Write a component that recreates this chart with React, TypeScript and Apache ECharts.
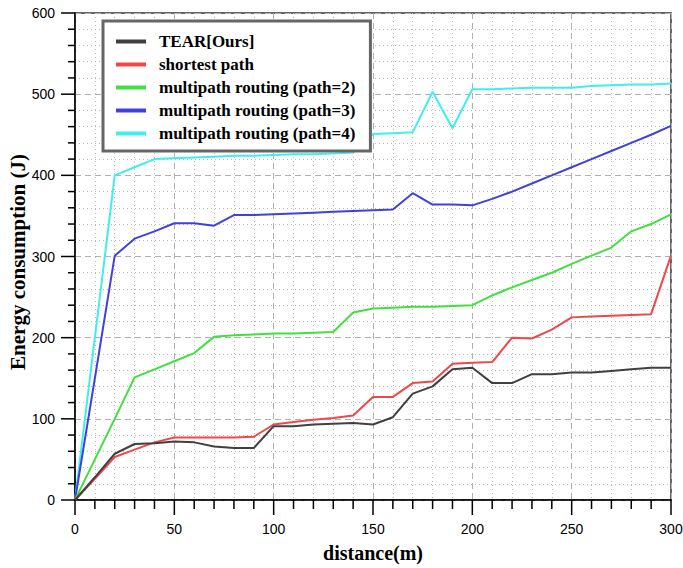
import React, { useEffect, useRef } from "react";
import * as echarts from "echarts";

const distances = [0, 10, 20, 30, 40, 50, 60, 70, 80, 90, 100, 110, 120, 130, 140, 150, 160, 170, 180, 190, 200, 210, 220, 230, 240, 250, 260, 270, 280, 290, 300];

const tearOurs = [0, 28, 57, 69, 70, 72, 71, 66, 64, 64, 91, 91, 93, 94, 95, 93, 102, 131, 140, 161, 163, 144, 144, 155, 155, 157, 157, 159, 161, 163, 163];
const shortestPath = [0, 26, 53, 62, 71, 77, 77, 77, 77, 78, 93, 96, 99, 101, 104, 127, 127, 144, 146, 168, 169, 170, 200, 199, 210, 225, 226, 227, 228, 229, 301];
const multipath2 = [0, 50, 100, 151, 161, 171, 181, 201, 203, 204, 205, 205, 206, 207, 231, 236, 237, 238, 238, 239, 240, 252, 262, 271, 280, 291, 301, 311, 331, 340, 352];
const multipath3 = [0, 150, 301, 322, 331, 341, 341, 338, 351, 351, 352, 353, 354, 355, 356, 357, 358, 378, 364, 364, 363, 371, 380, 390, 400, 410, 420, 430, 440, 450, 461];
const multipath4 = [0, 200, 400, 410, 420, 421, 422, 423, 424, 424, 425, 426, 426, 427, 428, 451, 452, 453, 503, 458, 506, 506, 507, 508, 508, 508, 510, 511, 512, 512, 513];

const seriesNames = [
  "TEAR[Ours]",
  "shortest path",
  "multipath routing (path=2)",
  "multipath routing (path=3)",
  "multipath routing (path=4)",
];
const seriesData = [tearOurs, shortestPath, multipath2, multipath3, multipath4];
const seriesColors = ["#404040", "#f04848", "#40e040", "#4040e0", "#40eeee"];

// tick positions (major every 50 / 100, minor every 10 / 20)
const xTickValues = [0, 10, 20, 30, 40, 50, 60, 70, 80, 90, 100, 110, 120, 130, 140, 150, 160, 170, 180, 190, 200, 210, 220, 230, 240, 250, 260, 270, 280, 290, 300];
const yTickValues = [0, 20, 40, 60, 80, 100, 120, 140, 160, 180, 200, 220, 240, 260, 280, 300, 320, 340, 360, 380, 400, 420, 440, 460, 480, 500, 520, 540, 560, 580, 600];

const xAxisTitle = "distance(m)";
const yAxisTitle = "Energy consumption (J)";

const SERIF = "'Liberation Serif', 'Times New Roman', serif";
const TICKFONT = "'Liberation Sans', sans-serif";

export default function App() {
  const ref = useRef<HTMLDivElement>(null);
  useEffect(() => {
    if (!ref.current) return;
    const chart = echarts.init(ref.current, undefined, { renderer: "svg" });

    const titles: any[] = [
      {
        type: "text",
        x: 373,
        y: 553,
        style: {
          text: xAxisTitle,
          fontFamily: SERIF,
          fontWeight: "bold",
          fontSize: 20,
          fill: "#000",
          align: "center",
          verticalAlign: "middle",
        },
      },
      {
        type: "text",
        x: 18,
        y: 262,
        rotation: Math.PI / 2,
        style: {
          text: yAxisTitle,
          fontFamily: SERIF,
          fontWeight: "bold",
          fontSize: 21,
          fill: "#000",
          align: "center",
          verticalAlign: "middle",
        },
      },
    ];

    chart.setOption({
      animation: false,
      backgroundColor: "#fff",
      grid: {
        left: 75,
        right: 12,
        top: 13,
        bottom: 68,
        show: true,
        borderColor: "#333",
        borderWidth: 1.5,
        containLabel: false,
        outerBoundsMode: "none",
      },
      graphic: titles,
      legend: {
        orient: "vertical",
        left: 103,
        top: 21,
        itemWidth: 30,
        itemHeight: 14,
        itemGap: 6,
        padding: [12, 15, 9, 13],
        borderColor: "#666",
        borderWidth: 3,
        backgroundColor: "#fff",
        icon: "path://M0,0 L30,0 L30,4 L0,4 Z",
        symbolKeepAspect: true,
        data: seriesNames,
        textStyle: {
          fontFamily: SERIF,
          fontWeight: "bold",
          fontSize: 17,
          color: "#000",
          padding: [0, 0, 0, 8],
        },
      },
      xAxis: {
        type: "value",
        min: 0,
        max: 300,
        interval: 50,
        axisLine: { show: true, onZero: false, lineStyle: { color: "#000", width: 1.5 } },
        axisTick: { show: false },
        minorTick: { show: false, splitNumber: 5 },
        axisLabel: { fontFamily: TICKFONT, fontSize: 14, color: "#000", margin: 22 },
        splitLine: { show: true, lineStyle: { color: "#b0b0b0", type: [6, 4], width: 1 } },
        minorSplitLine: { show: true, lineStyle: { color: "#b8b8b8", type: [1, 3], width: 1 } },
      },
      yAxis: {
        type: "value",
        min: 0,
        max: 600,
        interval: 100,
        axisLine: { show: true, onZero: false, lineStyle: { color: "#000", width: 1.5 } },
        axisTick: { show: false },
        minorTick: { show: false, splitNumber: 5 },
        axisLabel: { fontFamily: TICKFONT, fontSize: 14, color: "#000", margin: 20 },
        splitLine: { show: true, lineStyle: { color: "#b0b0b0", type: [6, 4], width: 1 } },
        minorSplitLine: { show: true, lineStyle: { color: "#b8b8b8", type: [1, 3], width: 1 } },
      },
      series: seriesNames.map((name, i) => ({
        name,
        type: "line",
        data: distances.map((d, j) => [d, seriesData[i][j]]),
        symbol: "none",
        color: seriesColors[i],
        lineStyle: { color: seriesColors[i], width: 2 },
        z: 5 - i + 2,
      })),
    });

    // axis ticks placed through the chart's own scales
    const ticks: any[] = [];
    xTickValues.forEach((v) => {
      const p = chart.convertToPixel({ gridIndex: 0 }, [v, 0]) as number[];
      if (!p) return;
      const len = v % 50 === 0 ? 15 : 9;
      ticks.push({
        type: "line",
        silent: true,
        z: 100,
        shape: { x1: p[0], y1: p[1], x2: p[0], y2: p[1] + len },
        style: { stroke: "#000", lineWidth: 1.5 },
      });
    });
    yTickValues.forEach((v) => {
      const p = chart.convertToPixel({ gridIndex: 0 }, [0, v]) as number[];
      if (!p) return;
      const len = v % 100 === 0 ? 14 : 7;
      ticks.push({
        type: "line",
        silent: true,
        z: 100,
        shape: { x1: p[0], y1: p[1], x2: p[0] - len, y2: p[1] },
        style: { stroke: "#000", lineWidth: 1.5 },
      });
    });
    chart.setOption({ graphic: [...titles, ...ticks] });

    return () => chart.dispose();
  }, []);
  return (
    <div
      ref={ref}
      style={{ position: "fixed", left: 0, top: 0, width: 683, height: 568 }}
    />
  );
}
